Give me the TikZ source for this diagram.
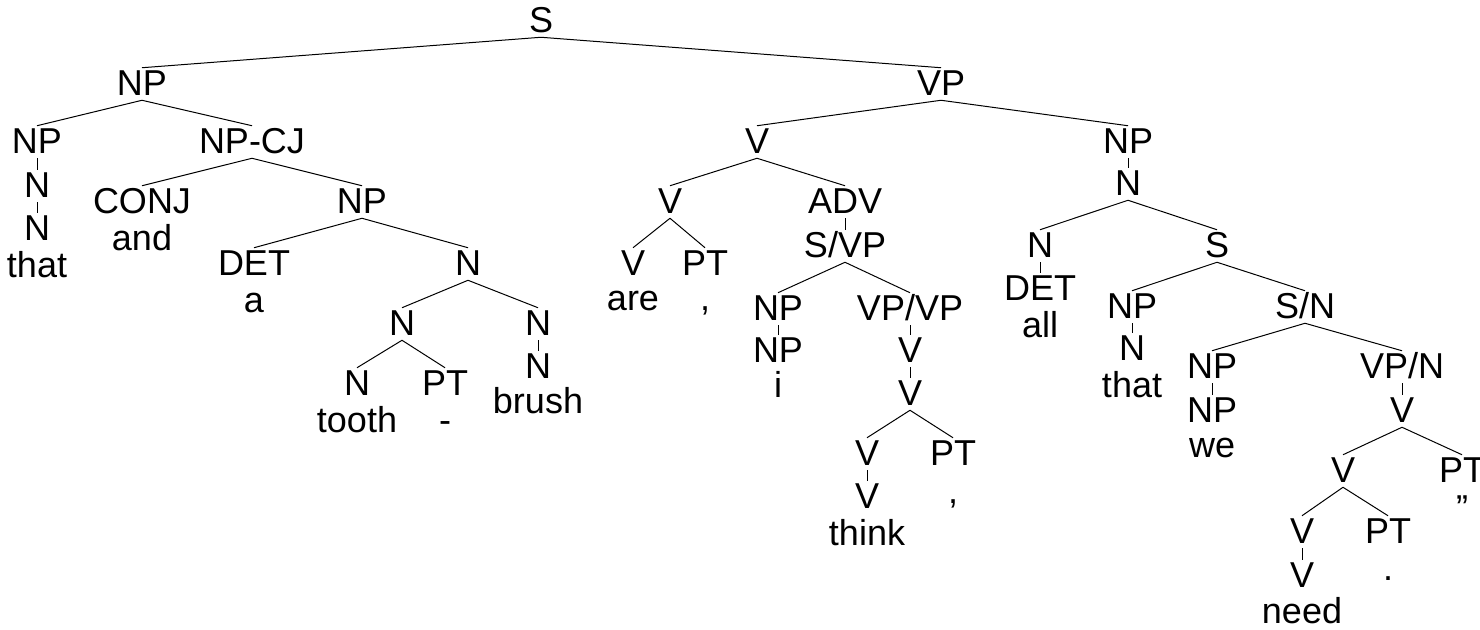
\documentclass[tikz,border=0pt]{standalone}
\usepackage{fontspec}
\setmainfont{Liberation Sans}
\begin{document}
\begin{tikzpicture}[x=0.75pt,y=-0.75pt,
  lbl/.style={font=\fontsize{27pt}{32pt}\selectfont, anchor=base, inner sep=0pt,
              text height=20.25pt, text depth=3.75pt},
  edge/.style={line width=0.75pt, black}]
\useasboundingbox (0,0) rectangle (1480,629);

% ---- category labels and words (x = centre, y = baseline) ----
\node[lbl] (s)      at (541,32)  {S};
\node[lbl] (np1)    at (142,95)  {NP};
\node[lbl] (vp)     at (941,95)  {VP};
\node[lbl] (np2)    at (37,153)  {NP};
\node[lbl] (npcj)   at (252,153) {NP-CJ};
\node[lbl] (v1)     at (757,153) {V};
\node[lbl] (np3)    at (1128,153) {NP};
\node[lbl] (n1)     at (37,197)  {N};
\node[lbl] (n2)     at (37,240)  {N};
\node[lbl] (w1)     at (37,277)  {that};
\node[lbl] (conj)   at (142,213) {CONJ};
\node[lbl] (np4)    at (362,213) {NP};
\node[lbl] (wand)   at (142,250) {and};
\node[lbl] (det1)   at (254,275) {DET};
\node[lbl] (n3)     at (468,275) {N};
\node[lbl] (wa)     at (254,312) {a};
\node[lbl] (n4)     at (402,335) {N};
\node[lbl] (n5)     at (538,335) {N};
\node[lbl] (n6)     at (357,395) {N};
\node[lbl] (pt1)    at (445,395) {PT};
\node[lbl] (wtooth) at (357,432) {tooth};
\node[lbl] (wdash)  at (445,432) {-};
\node[lbl] (n7)     at (538,378) {N};
\node[lbl] (wbrush) at (538,413) {brush};
\node[lbl] (v2)     at (670,213) {V};
\node[lbl] (adv)    at (845,213) {ADV};
\node[lbl] (v3)     at (633,275) {V};
\node[lbl] (pt2)    at (705,275) {PT};
\node[lbl] (ware)   at (633,310) {are};
\node[lbl] (wcom1)  at (705,310) {,};
\node[lbl] (svp)    at (845,257) {S/VP};
\node[lbl] (np5)    at (778,320) {NP};
\node[lbl] (vpvp)   at (910,320) {VP/VP};
\node[lbl] (np6)    at (778,362) {NP};
\node[lbl] (wi)     at (778,397) {i};
\node[lbl] (v4)     at (910,362) {V};
\node[lbl] (v5)     at (910,405) {V};
\node[lbl] (v6)     at (867,465) {V};
\node[lbl] (pt3)    at (953,465) {PT};
\node[lbl] (v7)     at (867,508) {V};
\node[lbl] (wthink) at (867,545) {think};
\node[lbl] (wcom2)  at (953,503) {,};
\node[lbl] (n8)     at (1128,195) {N};
\node[lbl] (n9)     at (1040,257) {N};
\node[lbl] (s2)     at (1217,257) {S};
\node[lbl] (det2)   at (1040,300) {DET};
\node[lbl] (wall)   at (1040,337) {all};
\node[lbl] (np7)    at (1132,318) {NP};
\node[lbl] (sn)     at (1305,318) {S/N};
\node[lbl] (n10)    at (1132,360) {N};
\node[lbl] (wthat)  at (1132,397) {that};
\node[lbl] (np8)    at (1212,378) {NP};
\node[lbl] (vpn)    at (1402,378) {VP/N};
\node[lbl] (np9)    at (1212,422) {NP};
\node[lbl] (wwe)    at (1212,457) {we};
\node[lbl] (v8)     at (1402,422) {V};
\node[lbl] (v9)     at (1343,482) {V};
\node[lbl] (pt4)    at (1462,482) {PT};
\node[lbl] (v10)    at (1302,543) {V};
\node[lbl] (pt5)    at (1388,543) {PT};
\node[lbl] (v11)    at (1302,587) {V};
\node[lbl] (wneed)  at (1302,623) {need};
\node[lbl] (wdot)   at (1388,580) {.};
\node[lbl] (wquote) at (1462,520) {”};

% ---- branches ----
\foreach \p/\c in {s/np1, s/vp, np1/np2, np1/npcj, np2/n1, n1/n2,
    npcj/conj, npcj/np4, np4/det1, np4/n3, n3/n4, n3/n5, n4/n6, n4/pt1, n5/n7,
    vp/v1, vp/np3, v1/v2, v1/adv, v2/v3, v2/pt2, adv/svp, svp/np5, svp/vpvp,
    np5/np6, vpvp/v4, v4/v5, v5/v6, v5/pt3, v6/v7,
    np3/n8, n8/n9, n8/s2, n9/det2, s2/np7, s2/sn, np7/n10, sn/np8, sn/vpn,
    np8/np9, vpn/v8, v8/v9, v8/pt4, v9/v10, v9/pt5, v10/v11}
  \draw[edge] (\p.south) -- (\c.north);
\end{tikzpicture}
\end{document}
